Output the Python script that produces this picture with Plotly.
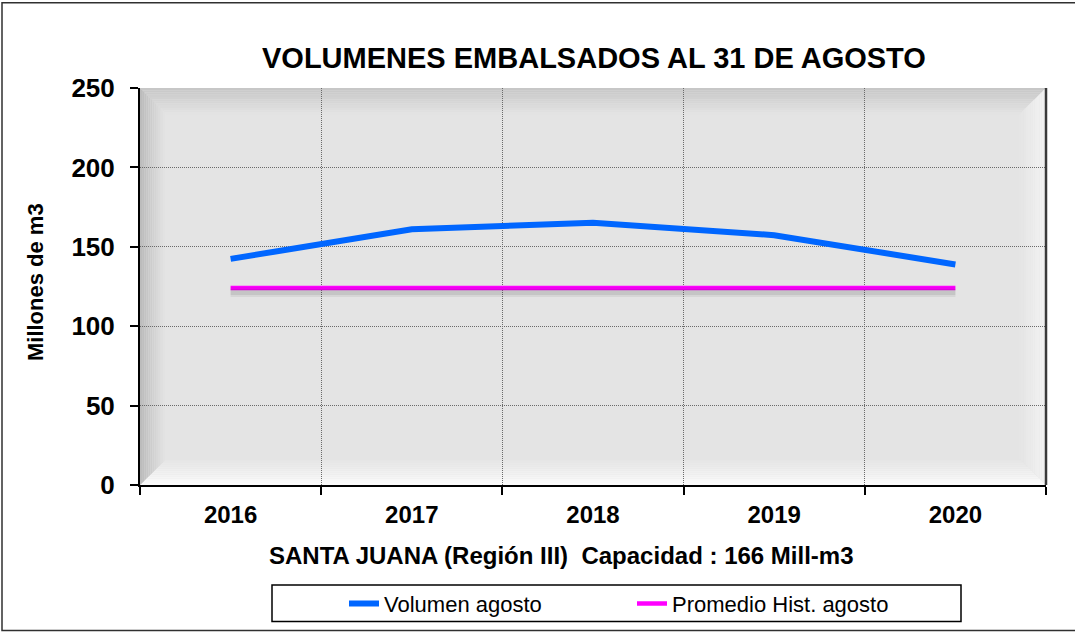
import plotly.graph_objects as go

# ---- data ----
years = ["2016", "2017", "2018", "2019", "2020"]
volumen = [142.4, 161.0, 165.2, 157.3, 138.9]
promedio = [124.0, 124.0, 124.0, 124.0, 124.0]
yticks = [0, 50, 100, 150, 200, 250]

title_text = "VOLUMENES EMBALSADOS AL 31 DE AGOSTO"
xtitle_text = "SANTA JUANA (Región III)  Capacidad : 166 Mill-m3"
ytitle_text = "Millones de m3"

FONT = "Liberation Sans, Arial, sans-serif"

# plot-area geometry in pixels
WIDTH, HEIGHT = 1075, 637
L, R, T, B = 140, 1046, 88, 489
W, H = R - L, B - T


def px(x):
    return (x - L) / W


def py(y):
    return (B - y) / H


def hexrgb(c):
    c = c.lstrip("#")
    return tuple(int(c[i:i + 2], 16) for i in (0, 2, 4))


def lerp(c1, c2, t):
    a, b = hexrgb(c1), hexrgb(c2)
    return "rgb(%d,%d,%d)" % tuple(round(a[k] + (b[k] - a[k]) * t) for k in range(3))


def poly(pts):
    return "M " + " L ".join("%.5f,%.5f" % (px(x), py(y)) for x, y in pts) + " Z"


shapes = []
# base plot background
shapes.append(dict(type="rect", xref="paper", yref="paper", x0=0, x1=1, y0=0, y1=1,
                   fillcolor="#e4e4e4", line=dict(width=0), layer="below"))

# bevel edges
def bevel(side, depth, c_out, c_in, n=12):
    for j in range(n):
        o = depth * j / n
        i = depth * (j + 1) / n
        if side == "left":
            pts = [(L + o, T + o), (L + o, B - o), (L + i, B - i), (L + i, T + i)]
        elif side == "right":
            pts = [(R - o, T + o), (R - o, B - o), (R - i, B - i), (R - i, T + i)]
        elif side == "top":
            pts = [(L + o, T + o), (R - o, T + o), (R - i, T + i), (L + i, T + i)]
        else:
            pts = [(L + o, B - o), (R - o, B - o), (R - i, B - i), (L + i, B - i)]
        shapes.append(dict(type="path", xref="paper", yref="paper", path=poly(pts),
                           fillcolor=lerp(c_out, c_in, (j + 0.5) / n),
                           line=dict(width=0), layer="below"))


bevel("top", 27, "#c6c6c6", "#e4e4e4")
bevel("bottom", 25, "#fbfbfb", "#e6e6e6")
bevel("right", 27, "#f4f4f4", "#e4e4e4")
bevel("left", 25, "#bababa", "#e4e4e4")

# right dark edge of plot area
shapes.append(dict(type="line", xref="paper", yref="paper", x0=1, x1=1, y0=0, y1=1,
                   line=dict(color="#3a3a3a", width=2.5), layer="above"))
# outer chart border
shapes.append(dict(type="rect", xref="paper", yref="paper",
                   x0=px(2), x1=px(1078), y0=py(636), y1=py(2),
                   line=dict(color="#303030", width=1.5), fillcolor="rgba(0,0,0,0)"))
# legend box
shapes.append(dict(type="rect", xref="paper", yref="paper",
                   x0=px(272), x1=px(961), y0=py(627), y1=py(590),
                   line=dict(color="#000000", width=1.5), fillcolor="white"))

fig = go.Figure()

# soft shadow under the historical average line (drawn on slightly shifted axes)
fig.add_trace(go.Scatter(x=years, y=promedio, mode="lines", yaxis="y2",
                         line=dict(color="rgba(0,0,0,0.06)", width=10),
                         showlegend=False, hoverinfo="skip"))
fig.add_trace(go.Scatter(x=years, y=promedio, mode="lines", yaxis="y2",
                         line=dict(color="rgba(0,0,0,0.08)", width=6),
                         showlegend=False, hoverinfo="skip"))
fig.add_trace(go.Scatter(x=years, y=volumen, mode="lines", name="Volumen agosto",
                         line=dict(color="#0066ff", width=6)))
fig.add_trace(go.Scatter(x=years, y=promedio, mode="lines", name="Promedio Hist. agosto",
                         line=dict(color="#ff00ff", width=4.5)))

shift = 4 * 250 / H

fig.update_layout(
    width=WIDTH, height=HEIGHT,
    margin=dict(l=L, r=WIDTH - R, t=T, b=HEIGHT - B),
    paper_bgcolor="white", plot_bgcolor="rgba(0,0,0,0)",
    font=dict(family=FONT, color="black"),
    shapes=shapes,
    xaxis=dict(type="category", range=[-0.5, len(years) - 0.5],
               tickson="boundaries", showgrid=True,
               gridcolor="#6a6a6a", griddash="1px,1px", gridwidth=1,
               ticks="outside", ticklen=8, tickcolor="black", tickwidth=1.5,
               showline=True, linecolor="black", linewidth=2,
               tickfont=dict(family=FONT, size=24, weight="bold", color="black"),
               ticklabelstandoff=7, zeroline=False),
    yaxis=dict(range=[0, 250], tickvals=yticks, showgrid=True,
               gridcolor="#6a6a6a", griddash="1px,1px", gridwidth=1,
               ticks="outside", ticklen=8, tickcolor="black", tickwidth=1.5,
               showline=True, linecolor="black", linewidth=2,
               tickfont=dict(family=FONT, size=26, weight="bold", color="black"),
               ticklabelstandoff=10, zeroline=False),
    yaxis2=dict(range=[shift, 250 + shift], overlaying="y", visible=False,
                showgrid=False, zeroline=False),
    legend=dict(orientation="h", x=px(344), xanchor="left", y=py(609), yanchor="middle",
                bgcolor="rgba(0,0,0,0)", borderwidth=0,
                font=dict(family=FONT, size=22, color="black"),
                entrywidth=243, entrywidthmode="pixels"),
    annotations=[
        dict(text=title_text, xref="paper", yref="paper", x=px(594), y=py(58),
             xanchor="center", yanchor="middle", showarrow=False,
             font=dict(family=FONT, size=29, weight="bold", color="black")),
        dict(text=xtitle_text, xref="paper", yref="paper", x=px(561), y=py(560),
             xanchor="center", yanchor="middle", showarrow=False,
             font=dict(family=FONT, size=24, weight="bold", color="black")),
        dict(text=ytitle_text, xref="paper", yref="paper", x=px(35), y=py(284),
             xanchor="center", yanchor="middle", showarrow=False, textangle=-90,
             font=dict(family=FONT, size=22, weight="bold", color="black")),
    ],
)

fig.write_html("out.html", config={"displayModeBar": False},
               post_script="document.body.style.margin='0px';")
